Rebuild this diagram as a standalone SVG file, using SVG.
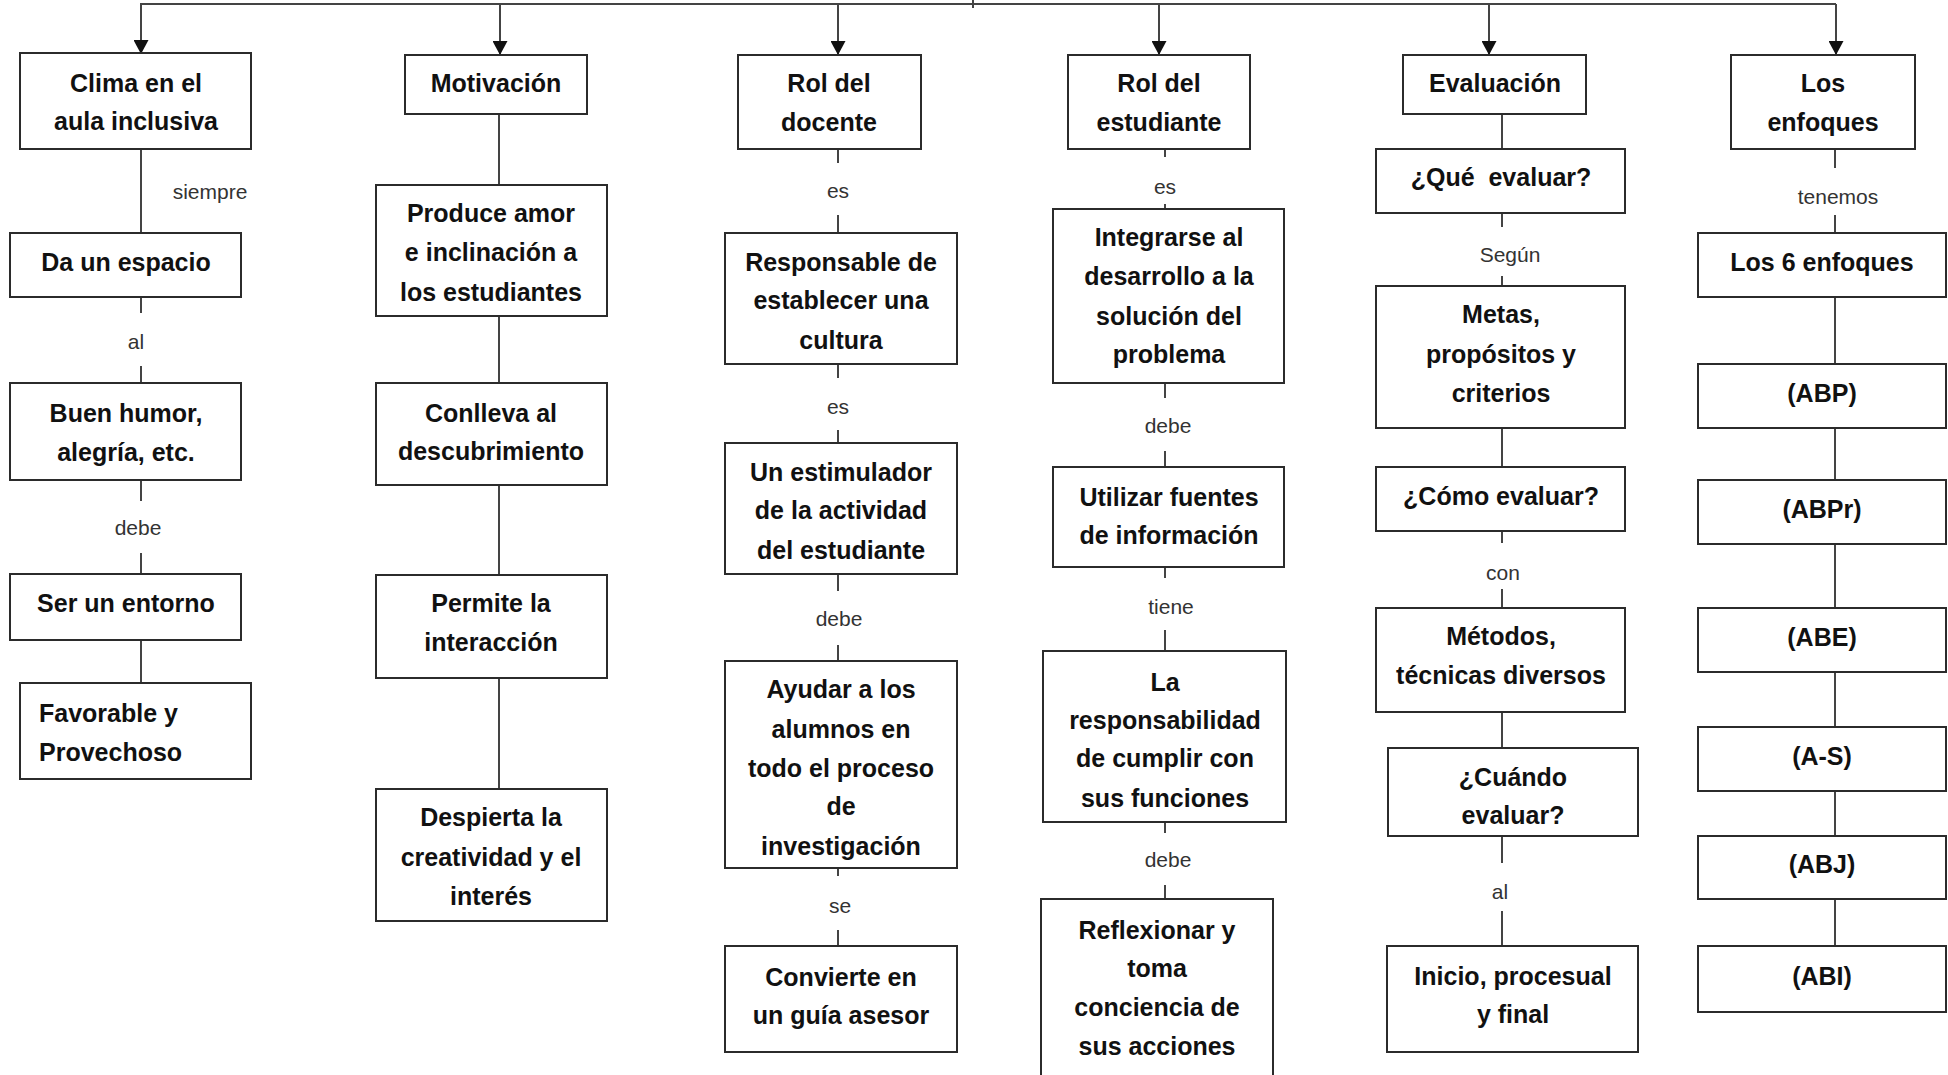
<svg xmlns="http://www.w3.org/2000/svg" width="1948" height="1075" viewBox="0 0 1948 1075">
<style>
.box{fill:#fff;stroke:#2b2b2b;stroke-width:2}
.t{font-family:"Liberation Sans",Arial,sans-serif;font-weight:bold;font-size:25px;fill:#111;text-anchor:middle}
.tl{text-anchor:start}
.l{font-family:"Liberation Sans",Arial,sans-serif;font-size:21px;fill:#333;text-anchor:middle}
.c{stroke:#444;stroke-width:2;fill:none}
</style>
<defs>
<marker id="ah" markerUnits="userSpaceOnUse" markerWidth="14" markerHeight="15" refX="14" refY="7.5" orient="auto">
<path d="M0,0 L14,7.5 L0,15 Z" fill="#111"/>
</marker>
</defs>
<rect width="1948" height="1075" fill="#fff"/>
<g id="connectors">
<line class="c" x1="973" y1="0" x2="973" y2="8"/>
<line class="c" x1="140" y1="4" x2="1836" y2="4"/>
<line class="c" x1="141" y1="4" x2="141" y2="54" marker-end="url(#ah)"/>
<line class="c" x1="500" y1="4" x2="500" y2="55" marker-end="url(#ah)"/>
<line class="c" x1="838" y1="4" x2="838" y2="55" marker-end="url(#ah)"/>
<line class="c" x1="1159" y1="4" x2="1159" y2="55" marker-end="url(#ah)"/>
<line class="c" x1="1489" y1="4" x2="1489" y2="55" marker-end="url(#ah)"/>
<line class="c" x1="1836" y1="4" x2="1836" y2="55" marker-end="url(#ah)"/>
<!-- col1 -->
<line class="c" x1="141" y1="149" x2="141" y2="233"/>
<line class="c" x1="141" y1="297" x2="141" y2="313"/>
<line class="c" x1="141" y1="366" x2="141" y2="383"/>
<line class="c" x1="141" y1="480" x2="141" y2="501"/>
<line class="c" x1="141" y1="553" x2="141" y2="574"/>
<line class="c" x1="141" y1="640" x2="141" y2="683"/>
<!-- col2 -->
<line class="c" x1="499" y1="114" x2="499" y2="185"/>
<line class="c" x1="499" y1="316" x2="499" y2="383"/>
<line class="c" x1="499" y1="485" x2="499" y2="575"/>
<line class="c" x1="499" y1="678" x2="499" y2="789"/>
<!-- col3 -->
<line class="c" x1="838" y1="149" x2="838" y2="163"/>
<line class="c" x1="838" y1="215" x2="838" y2="233"/>
<line class="c" x1="838" y1="364" x2="838" y2="378"/>
<line class="c" x1="838" y1="430" x2="838" y2="443"/>
<line class="c" x1="838" y1="574" x2="838" y2="591"/>
<line class="c" x1="838" y1="645" x2="838" y2="661"/>
<line class="c" x1="838" y1="868" x2="838" y2="876"/>
<line class="c" x1="838" y1="930" x2="838" y2="946"/>
<!-- col4 -->
<line class="c" x1="1165" y1="149" x2="1165" y2="157"/>
<line class="c" x1="1165" y1="204" x2="1165" y2="209"/>
<line class="c" x1="1165" y1="383" x2="1165" y2="398"/>
<line class="c" x1="1165" y1="451" x2="1165" y2="467"/>
<line class="c" x1="1165" y1="567" x2="1165" y2="578"/>
<line class="c" x1="1165" y1="630" x2="1165" y2="651"/>
<line class="c" x1="1165" y1="822" x2="1165" y2="833"/>
<line class="c" x1="1165" y1="885" x2="1165" y2="899"/>
<!-- col5 -->
<line class="c" x1="1502" y1="114" x2="1502" y2="149"/>
<line class="c" x1="1502" y1="213" x2="1502" y2="227"/>
<line class="c" x1="1502" y1="276" x2="1502" y2="286"/>
<line class="c" x1="1502" y1="428" x2="1502" y2="467"/>
<line class="c" x1="1502" y1="531" x2="1502" y2="543"/>
<line class="c" x1="1502" y1="589" x2="1502" y2="608"/>
<line class="c" x1="1502" y1="712" x2="1502" y2="748"/>
<line class="c" x1="1502" y1="836" x2="1502" y2="863"/>
<line class="c" x1="1502" y1="911" x2="1502" y2="946"/>
<!-- col6 -->
<line class="c" x1="1835" y1="149" x2="1835" y2="168"/>
<line class="c" x1="1835" y1="215" x2="1835" y2="233"/>
<line class="c" x1="1835" y1="297" x2="1835" y2="364"/>
<line class="c" x1="1835" y1="428" x2="1835" y2="480"/>
<line class="c" x1="1835" y1="544" x2="1835" y2="608"/>
<line class="c" x1="1835" y1="672" x2="1835" y2="727"/>
<line class="c" x1="1835" y1="791" x2="1835" y2="836"/>
<line class="c" x1="1835" y1="899" x2="1835" y2="946"/>
<!-- labels -->
<text class="l" x="210" y="199">siempre</text>
<text class="l" x="136" y="349">al</text>
<text class="l" x="138" y="535">debe</text>
<text class="l" x="838" y="198">es</text>
<text class="l" x="838" y="414">es</text>
<text class="l" x="839" y="626">debe</text>
<text class="l" x="840" y="913">se</text>
<text class="l" x="1165" y="194">es</text>
<text class="l" x="1168" y="433">debe</text>
<text class="l" x="1171" y="614">tiene</text>
<text class="l" x="1168" y="867">debe</text>
<text class="l" x="1510" y="262">Según</text>
<text class="l" x="1503" y="580">con</text>
<text class="l" x="1500" y="899">al</text>
<text class="l" x="1838" y="204">tenemos</text>
</g>
<g id="n-clima"><rect class="box" x="20" y="53" width="231" height="96"/><text class="t" x="136" y="92">Clima en el</text><text class="t" x="136" y="130">aula inclusiva</text></g>
<g id="n-espacio"><rect class="box" x="10" y="233" width="231" height="64"/><text class="t" x="126" y="271">Da un espacio</text></g>
<g id="n-humor"><rect class="box" x="10" y="383" width="231" height="97"/><text class="t" x="126" y="422">Buen humor,</text><text class="t" x="126" y="461">alegría, etc.</text></g>
<g id="n-entorno"><rect class="box" x="10" y="574" width="231" height="66"/><text class="t" x="126" y="612">Ser un entorno</text></g>
<g id="n-favorable"><rect class="box" x="20" y="683" width="231" height="96"/><text class="t tl" x="39" y="722">Favorable y</text><text class="t tl" x="39" y="761">Provechoso</text></g>

<g id="n-motivacion"><rect class="box" x="405" y="55" width="182" height="59"/><text class="t" x="496" y="92">Motivación</text></g>
<g id="n-produce"><rect class="box" x="376" y="185" width="231" height="131"/><text class="t" x="491" y="222">Produce amor</text><text class="t" x="491" y="261">e inclinación a</text><text class="t" x="491" y="301">los estudiantes</text></g>
<g id="n-conlleva"><rect class="box" x="376" y="383" width="231" height="102"/><text class="t" x="491" y="422">Conlleva al</text><text class="t" x="491" y="460">descubrimiento</text></g>
<g id="n-permite"><rect class="box" x="376" y="575" width="231" height="103"/><text class="t" x="491" y="612">Permite la</text><text class="t" x="491" y="651">interacción</text></g>
<g id="n-despierta"><rect class="box" x="376" y="789" width="231" height="132"/><text class="t" x="491" y="826">Despierta la</text><text class="t" x="491" y="866">creatividad y el</text><text class="t" x="491" y="905">interés</text></g>

<g id="n-docente"><rect class="box" x="738" y="55" width="183" height="94"/><text class="t" x="829" y="92">Rol del</text><text class="t" x="829" y="131">docente</text></g>
<g id="n-responsable"><rect class="box" x="725" y="233" width="232" height="131"/><text class="t" x="841" y="271">Responsable de</text><text class="t" x="841" y="309">establecer una</text><text class="t" x="841" y="349">cultura</text></g>
<g id="n-estimulador"><rect class="box" x="725" y="443" width="232" height="131"/><text class="t" x="841" y="481">Un estimulador</text><text class="t" x="841" y="519">de la actividad</text><text class="t" x="841" y="559">del estudiante</text></g>
<g id="n-ayudar"><rect class="box" x="725" y="661" width="232" height="207"/><text class="t" x="841" y="698">Ayudar a los</text><text class="t" x="841" y="738">alumnos en</text><text class="t" x="841" y="777">todo el proceso</text><text class="t" x="841" y="815">de</text><text class="t" x="841" y="855">investigación</text></g>
<g id="n-convierte"><rect class="box" x="725" y="946" width="232" height="106"/><text class="t" x="841" y="986">Convierte en</text><text class="t" x="841" y="1024">un guía asesor</text></g>

<g id="n-estudiante"><rect class="box" x="1068" y="55" width="182" height="94"/><text class="t" x="1159" y="92">Rol del</text><text class="t" x="1159" y="131">estudiante</text></g>
<g id="n-integrarse"><rect class="box" x="1053" y="209" width="231" height="174"/><text class="t" x="1169" y="246">Integrarse al</text><text class="t" x="1169" y="285">desarrollo a la</text><text class="t" x="1169" y="325">solución del</text><text class="t" x="1169" y="363">problema</text></g>
<g id="n-utilizar"><rect class="box" x="1053" y="467" width="231" height="100"/><text class="t" x="1169" y="506">Utilizar fuentes</text><text class="t" x="1169" y="544">de información</text></g>
<g id="n-responsabilidad"><rect class="box" x="1043" y="651" width="243" height="171"/><text class="t" x="1165" y="691">La</text><text class="t" x="1165" y="729">responsabilidad</text><text class="t" x="1165" y="767">de cumplir con</text><text class="t" x="1165" y="807">sus funciones</text></g>
<g id="n-reflexionar"><rect class="box" x="1041" y="899" width="232" height="185"/><text class="t" x="1157" y="939">Reflexionar y</text><text class="t" x="1157" y="977">toma</text><text class="t" x="1157" y="1016">conciencia de</text><text class="t" x="1157" y="1055">sus acciones</text></g>

<g id="n-evaluacion"><rect class="box" x="1403" y="55" width="183" height="59"/><text class="t" x="1495" y="92">Evaluación</text></g>
<g id="n-que"><rect class="box" x="1376" y="149" width="249" height="64"/><text class="t" x="1501" y="186" xml:space="preserve">¿Qué  evaluar?</text></g>
<g id="n-metas"><rect class="box" x="1376" y="286" width="249" height="142"/><text class="t" x="1501" y="323">Metas,</text><text class="t" x="1501" y="363">propósitos y</text><text class="t" x="1501" y="402">criterios</text></g>
<g id="n-como"><rect class="box" x="1376" y="467" width="249" height="64"/><text class="t" x="1501" y="505">¿Cómo evaluar?</text></g>
<g id="n-metodos"><rect class="box" x="1376" y="608" width="249" height="104"/><text class="t" x="1501" y="645">Métodos,</text><text class="t" x="1501" y="684">técnicas diversos</text></g>
<g id="n-cuando"><rect class="box" x="1388" y="748" width="250" height="88"/><text class="t" x="1513" y="786">¿Cuándo</text><text class="t" x="1513" y="824">evaluar?</text></g>
<g id="n-inicio"><rect class="box" x="1387" y="946" width="251" height="106"/><text class="t" x="1513" y="985">Inicio, procesual</text><text class="t" x="1513" y="1023">y final</text></g>

<g id="n-enfoques"><rect class="box" x="1731" y="55" width="184" height="94"/><text class="t" x="1823" y="92">Los</text><text class="t" x="1823" y="131">enfoques</text></g>
<g id="n-6enfoques"><rect class="box" x="1698" y="233" width="248" height="64"/><text class="t" x="1822" y="271">Los 6 enfoques</text></g>
<g id="n-abp"><rect class="box" x="1698" y="364" width="248" height="64"/><text class="t" x="1822" y="402">(ABP)</text></g>
<g id="n-abpr"><rect class="box" x="1698" y="480" width="248" height="64"/><text class="t" x="1822" y="518">(ABPr)</text></g>
<g id="n-abe"><rect class="box" x="1698" y="608" width="248" height="64"/><text class="t" x="1822" y="646">(ABE)</text></g>
<g id="n-as"><rect class="box" x="1698" y="727" width="248" height="64"/><text class="t" x="1822" y="765">(A-S)</text></g>
<g id="n-abj"><rect class="box" x="1698" y="836" width="248" height="63"/><text class="t" x="1822" y="873">(ABJ)</text></g>
<g id="n-abi"><rect class="box" x="1698" y="946" width="248" height="66"/><text class="t" x="1822" y="985">(ABI)</text></g>
</svg>
